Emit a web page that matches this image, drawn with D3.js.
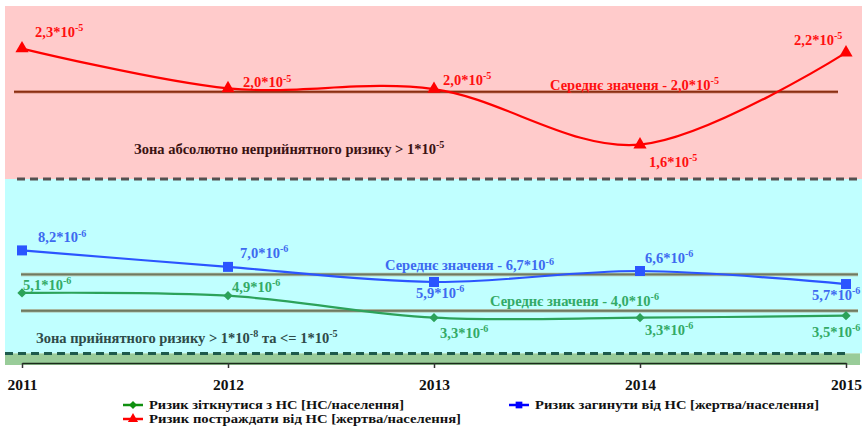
<!DOCTYPE html>
<html>
<head>
<meta charset="utf-8">
<script src="https://cdn.jsdelivr.net/npm/d3@7"></script>
<style>
  html, body { margin: 0; padding: 0; background: #fff; }
  svg { display: block; font-family: "Liberation Serif", "Times New Roman", serif; font-weight: bold; }
</style>
</head>
<body>
<svg id="chart" width="866" height="427"></svg>
<script>
// values in units of 1e-6
const years = ['2011', '2012', '2013', '2014', '2015'];
const riskCollide = [5.1, 4.9, 3.3, 3.3, 3.45];
const riskDie = [8.2, 7.0, 5.9, 6.7, 5.75];
const riskInjured = [22.9, 20.0, 19.95, 15.9, 22.6];

const labelsCollide = ['5,1', '4,9', '3,3', '3,3', '3,5'];
const labelsDie = ['8,2', '7,0', '5,9', '6,6', '5,7'];
const labelsInjured = ['2,3', '2,0', '2,0', '1,6', '2,2'];

const avgCollide = 3.8;
const avgDie = 6.45;
const avgInjured = 19.75;
const avgLabels = ['4,0', '6,7', '2,0'];

// zone bounds (same units)
const zoneTop = 26;
const zoneSplit = 13.4;
const zoneLow = 0.7;

const FS = 14.5;

const svg = d3.select('#chart');

const x = d3.scalePoint().domain(years).range([22, 846]);
const y = d3.scaleLinear().domain([0, 26]).range([363, 6]);

// Background zones
svg.append('rect').attr('x', 5).attr('width', 857)
  .attr('y', y(zoneTop)).attr('height', y(zoneSplit) - y(zoneTop)).attr('fill', '#ffcbcb');
svg.append('rect').attr('x', 5).attr('width', 857)
  .attr('y', y(zoneSplit)).attr('height', y(zoneLow) - y(zoneSplit)).attr('fill', '#c0ffff');
svg.append('rect').attr('x', 5).attr('width', 855)
  .attr('y', y(zoneLow)).attr('height', y(0) - y(zoneLow) + 2).attr('fill', '#99cc99');

// Zone borders
svg.append('line').attr('x1', 17).attr('x2', 862).attr('y1', y(zoneSplit)).attr('y2', y(zoneSplit))
  .attr('stroke', '#555050').attr('stroke-width', 3).attr('stroke-dasharray', '8,5');
svg.append('line').attr('x1', 5).attr('x2', 850).attr('y1', y(zoneLow)).attr('y2', y(zoneLow))
  .attr('stroke', '#1d5a4c').attr('stroke-width', 3).attr('stroke-dasharray', '8,5');

// Axis
const axis = svg.append('g').attr('transform', `translate(0,${y(0)})`)
  .call(d3.axisBottom(x).tickSize(5).tickSizeOuter(0).tickPadding(11));
axis.select('.domain').attr('stroke', '#1a2a1a').attr('stroke-width', 1.5);
axis.selectAll('.tick line').attr('stroke', '#333').attr('stroke-width', 1.5);
axis.selectAll('.tick text')
  .attr('font-family', '"Liberation Serif", serif').attr('font-weight', 'bold')
  .attr('font-size', 15.5).attr('fill', '#111');

// text with superscript exponent
function supText(g, px, py, base, exp, color, size, anchor) {
  const t = g.append('text').attr('x', px).attr('y', py).attr('fill', color)
    .attr('font-size', size).attr('text-anchor', anchor || 'start');
  t.append('tspan').text(base);
  t.append('tspan').attr('dy', -size * 0.4).attr('font-size', size * 0.7).text(exp);
  return t;
}

// Average lines
svg.append('line').attr('x1', 14).attr('x2', 838).attr('y1', y(avgInjured)).attr('y2', y(avgInjured))
  .attr('stroke', '#d89080').attr('stroke-width', 3.5);
svg.append('line').attr('x1', 14).attr('x2', 838).attr('y1', y(avgInjured)).attr('y2', y(avgInjured))
  .attr('stroke', '#8a2f12').attr('stroke-width', 1.8);
[avgDie, avgCollide].forEach(v => {
  svg.append('line').attr('x1', 21).attr('x2', 858).attr('y1', y(v)).attr('y2', y(v))
    .attr('stroke', '#a8b8a0').attr('stroke-width', 3.5);
  svg.append('line').attr('x1', 21).attr('x2', 858).attr('y1', y(v)).attr('y2', y(v))
    .attr('stroke', '#6f7a62').attr('stroke-width', 1.8);
});

// Zone captions
supText(svg, 134, 154, 'Зона абсолютно неприйнятного ризику > 1*10', '-5', '#3a1212', FS);
const zt = svg.append('text').attr('x', 36).attr('y', 343).attr('fill', '#2f4a48').attr('font-size', FS);
zt.append('tspan').text('Зона прийнятного ризику > 1*10');
zt.append('tspan').attr('dy', -6).attr('font-size', FS * 0.7).text('-8');
zt.append('tspan').attr('dy', 6).text(' та <= 1*10');
zt.append('tspan').attr('dy', -6).attr('font-size', FS * 0.7).text('-5');

// Series
const series = [
  { values: riskCollide, labels: labelsCollide, exp: '-6', line: '#2ca25a', text: '#33aa66',
    symbol: d3.symbolDiamond2 || d3.symbolDiamond, size: 55,
    offsets: [[1, -3], [4, -4], [6, 20], [5, 17], [-34, 21]] },
  { values: riskDie, labels: labelsDie, exp: '-6', line: '#2b55ff', text: '#3d6af0',
    symbol: d3.symbolSquare, size: 100,
    offsets: [[16, -8], [12, -9], [-18, 16], [5, -8], [-34, 16]] },
  { values: riskInjured, labels: labelsInjured, exp: '-5', line: '#ff0000', text: '#ff1010',
    symbol: d3.symbolTriangle, size: 75,
    offsets: [[13, -12], [15, -1], [9, -4], [9, 22], [-52, -8]] }
];

const line = d3.line()
  .x((d, i) => x(years[i]))
  .y(d => y(d))
  .curve(d3.curveCardinal.tension(0));

series.forEach(s => {
  svg.append('path').datum(s.values).attr('fill', 'none')
    .attr('stroke', s.line).attr('stroke-width', 2.2).attr('d', line);
  s.values.forEach((v, i) => {
    svg.append('path').attr('d', d3.symbol(s.symbol, s.size)())
      .attr('transform', `translate(${x(years[i])},${y(v)})`).attr('fill', s.line);
    const [dx, dy] = s.offsets[i];
    supText(svg, x(years[i]) + dx, y(v) + dy, s.labels[i] + '*10', s.exp, s.text, FS);
  });
});

// Average labels
supText(svg, 550, y(avgInjured) - 2, 'Середнє значеня - ' + avgLabels[2] + '*10', '-5', '#ff1010', FS);
supText(svg, 385, y(avgDie) - 4, 'Середнє значеня - ' + avgLabels[1] + '*10', '-6', '#3d6af0', FS);
supText(svg, 490, y(avgCollide) - 5, 'Середнє значеня - ' + avgLabels[0] + '*10', '-6', '#33aa66', FS);

// Legend
const legendItems = [
  { label: 'Ризик зіткнутися з НС [НС/населення]', color: '#109010', symbol: d3.symbolDiamond2 || d3.symbolDiamond, size: 40, x: 123, y: 405, w: 255 },
  { label: 'Ризик загинути від НС [жертва/населення]', color: '#0000ff', symbol: d3.symbolSquare, size: 45, x: 509, y: 405, w: 284 },
  { label: 'Ризик постраждати від НС [жертва/населення]', color: '#ff0000', symbol: d3.symbolTriangle, size: 45, x: 123, y: 419, w: 312 }
];
const legend = svg.append('g');
legendItems.forEach(d => {
  const g = legend.append('g').attr('transform', `translate(${d.x},${d.y})`);
  g.append('line').attr('x1', 0).attr('x2', 20).attr('stroke', d.color).attr('stroke-width', 2.5);
  g.append('path').attr('d', d3.symbol(d.symbol, d.size)()).attr('transform', 'translate(10,0)').attr('fill', d.color);
  g.append('text').attr('x', 26).attr('y', 4).attr('font-size', 13).attr('fill', '#111')
    .attr('textLength', d.w).attr('lengthAdjust', 'spacingAndGlyphs').text(d.label);
});
</script>
</body>
</html>
